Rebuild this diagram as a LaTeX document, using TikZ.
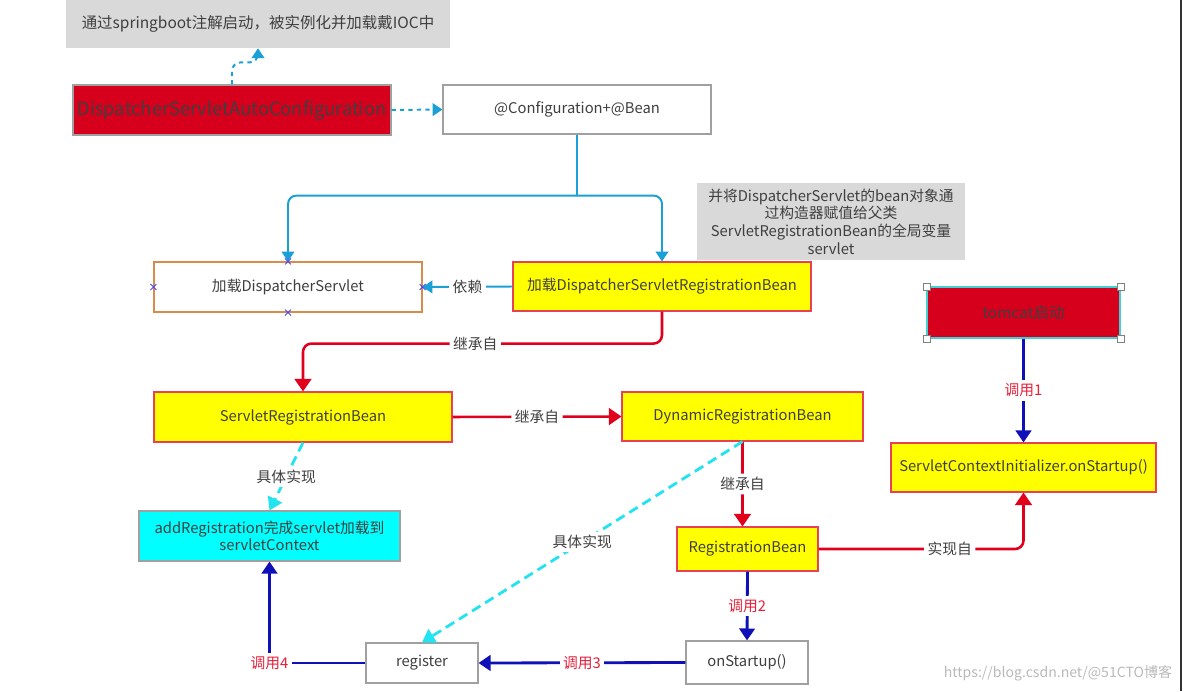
\documentclass[tikz,border=0pt]{standalone}
\usepackage{fontspec}
\setmainfont{Noto Sans CJK SC}
\usetikzlibrary{arrows.meta,calc}
\definecolor{boxred}{HTML}{D6001C}
\definecolor{bluec}{HTML}{1AA0D6}
\definecolor{redc}{HTML}{E0001B}
\definecolor{navyc}{HTML}{1010B8}
\definecolor{cyand}{HTML}{22E3F0}
\definecolor{redt}{HTML}{E8203A}
\definecolor{txt}{HTML}{3F3F3F}
\definecolor{notegray}{HTML}{D9D9D9}
\definecolor{boxline}{HTML}{A0A0A0}
\definecolor{orangeline}{HTML}{D98B4A}
\definecolor{xblue}{HTML}{4848F0}
\definecolor{yfill}{HTML}{FFFF00}
\definecolor{cfill}{HTML}{00FFFF}
\definecolor{tomline}{HTML}{3FD0D8}
\tikzset{
  sz/.style 2 args={minimum width=#1*0.025cm, minimum height=#2*0.025cm},
  base/.style={rectangle, inner sep=2pt, text=txt, font=\fontsize{10.5}{13}\selectfont, align=center},
  whitebox/.style={base, draw=boxline, line width=0.8pt, fill=white},
  yellowbox/.style={base, draw=redc!75, line width=0.8pt, fill=yfill},
  redbox/.style={base, draw=boxline, line width=0.8pt, fill=boxred},
  cyanbox/.style={base, draw=boxline, line width=0.8pt, fill=cfill},
  notebox/.style={base, fill=notegray},
  lbl/.style={fill=white, inner sep=2.5pt, text=txt, font=\fontsize{10.5}{13}\selectfont},
  clbl/.style={fill=white, inner sep=2.5pt, text=redt, font=\fontsize{10.5}{13}\selectfont},
  bline/.style={draw=bluec, line width=1.4pt, rounded corners=6pt},
  rline/.style={draw=redc, line width=1.8pt, rounded corners=6pt},
  nline/.style={draw=navyc, line width=2pt},
  cdash/.style={draw=cyand, line width=2pt, dash pattern=on 7pt off 4pt},
  barr/.style={-{Triangle[length=7pt,width=9pt]}},
  rarr/.style={-{Triangle[length=9pt,width=12pt]}},
  narr/.style={-{Triangle[length=8.5pt,width=11pt]}},
  carr/.style={-{Triangle[length=9pt,width=11pt]}},
  xm/.style={draw=xblue, line width=0.6pt},
  handle/.style={rectangle, draw=gray, fill=white, line width=0.6pt, minimum size=5pt, inner sep=0pt}
}
\begin{document}
\begin{tikzpicture}[x=0.025cm,y=-0.025cm]
\useasboundingbox (0,0) rectangle (1184,691);
% nodes
\node[notebox, sz={384}{48}, font=\fontsize{11}{13}\selectfont] (note1) at (258,24) {通过springboot注解启动，被实例化并加载戴IOC中};
\node[redbox, sz={318}{50}, inner sep=0pt, font=\fontsize{13}{16}\selectfont] (auto) at (232,110) {DispatcherServletAutoConfiguration};
\node[whitebox, sz={268}{49}] (conf) at (577,109.5) {@Configuration+@Bean};
\node[base, draw=orangeline, line width=0.8pt, fill=white, sz={268}{50}] (dl) at (288,287) {加载DispatcherServlet};
\node[yellowbox, sz={298}{49}] (dsrb) at (662,286.5) {加载DispatcherServletRegistrationBean};
\node[notebox, sz={268}{77}, inner sep=1pt, font=\fontsize{10.5}{12.6}\selectfont] (note2) at (831,221.5) {并将DispatcherServlet的bean对象通\\过构造器赋值给父类\\ServletRegistrationBean的全局变量\\servlet};
\node[yellowbox, sz={298}{50}] (srb) at (303,417) {ServletRegistrationBean};
\node[yellowbox, sz={241}{49}] (dyn) at (742.5,416.5) {DynamicRegistrationBean};
\node[yellowbox, sz={141}{44}] (rb) at (747.5,549) {RegistrationBean};
\node[base, draw=tomline, line width=0.8pt, fill=boxred, sz={193}{51}, font=\fontsize{11}{13}\selectfont] (tomcat) at (1023.5,312.5) {tomcat启动};
\node[yellowbox, sz={265}{49}] (sci) at (1023.5,467.5) {ServletContextInitializer.onStartup()};
\node[whitebox, sz={122}{43}] (ons) at (747,662.5) {onStartup()};
\node[whitebox, sz={112}{40}] (reg) at (422,663) {register};
\node[cyanbox, sz={261}{50}, font=\fontsize{10.5}{12.5}\selectfont] (addr) at (269.5,536) {addRegistration完成servlet加载到\\servletContext};
% handles
\foreach \a in {north east, north west, south east, south west}
  \node[handle] at (tomcat.\a) {};
% blue connectors
\draw[bline, dashed, barr] (auto.north) -- ++(0,-22) -| (note1.south);
\draw[bline, dashed, barr] (auto.east) -- (conf.west);
\draw[bline] (conf.south) -- ++(0,61) coordinate (split);
\draw[bline, barr] (split) -| (dl.north);
\draw[bline, barr] (split) -| (dsrb.north);
\draw[bline, barr] (dsrb.west) -- node[lbl]{依赖} (dl.east);
% x markers
\foreach \a in {north,south,east,west}
  \draw[xm] ($(dl.\a)+(-3,-3)$) -- ++(6,6) ($(dl.\a)+(-3,3)$) -- ++(6,-6);
% red connectors
\draw[rline, rarr] (dsrb.south) -- ++(0,32) -| node[lbl,pos=0.26]{继承自} (srb.north);
\draw[rline, rarr] (srb.east) -- node[lbl]{继承自} (dyn.west);
\draw[rline, rarr] (dyn.south) -- node[lbl]{继承自} (dyn.south |- rb.north);
\draw[rline, rarr] (rb.east) -| node[lbl,pos=0.32]{实现自} (sci.south);
% navy connectors
\draw[nline, narr] (tomcat.south) -- node[clbl]{调用1} (sci.north);
\draw[nline, narr] (rb.south) -- node[clbl]{调用2} (ons.north);
\draw[nline, narr] (ons.west) -- node[clbl]{调用3} (reg.east);
\draw[nline, narr] (reg.west) -| node[clbl,pos=0.5]{调用4} (addr.south);
% cyan dashed
\draw[cdash, carr] (srb.south) -- node[lbl]{具体实现} (addr.north);
\draw[cdash, carr] (dyn.south) -- node[lbl]{具体实现} (reg.north);
% border line and watermark
\draw[line width=1.4pt, black!80] (1181,0) -- (1181,691);
\node[text=gray!55, font=\fontsize{10}{12}\selectfont, inner sep=0pt] (wm) at (1058,673) {https://blog.csdn.net/@51CTO博客};
\end{tikzpicture}
\end{document}
